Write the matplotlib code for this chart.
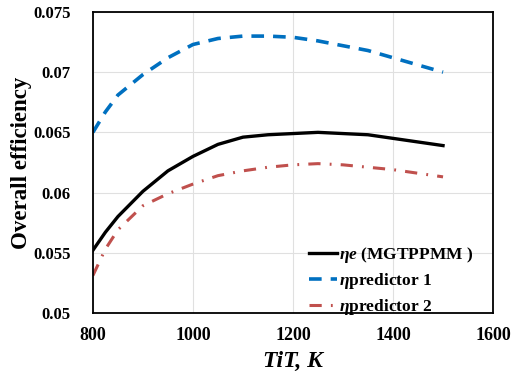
import matplotlib
matplotlib.use('Agg')
import matplotlib.pyplot as plt

plt.rcParams['font.family'] = 'Liberation Serif'
plt.rcParams['font.weight'] = 'bold'
plt.rcParams['mathtext.fontset'] = 'custom'
plt.rcParams['mathtext.rm'] = 'Liberation Serif:bold'
plt.rcParams['mathtext.it'] = 'Liberation Serif:italic:bold'
plt.rcParams['mathtext.bf'] = 'Liberation Serif:bold'

tit = [800, 825, 850, 900, 950, 1000, 1050, 1100, 1150, 1200, 1250, 1300, 1350, 1400, 1450, 1500]
eta_e = [0.0552, 0.0567, 0.0580, 0.0601, 0.0618, 0.0630, 0.0640, 0.0646, 0.0648, 0.0649, 0.0650,
         0.0649, 0.0648, 0.0645, 0.0642, 0.0639]
eta_pred1 = [0.0650, 0.0667, 0.0681, 0.0698, 0.0712, 0.0723, 0.0728, 0.0730, 0.0730, 0.0729, 0.0726,
             0.0722, 0.0718, 0.0712, 0.0706, 0.0700]
eta_pred2 = [0.0531, 0.0553, 0.0569, 0.0589, 0.0599, 0.0607, 0.0614, 0.0618, 0.0621, 0.0623, 0.0624,
             0.0623, 0.0621, 0.0619, 0.0616, 0.0613]

fig = plt.figure(figsize=(5.19, 3.76), dpi=100)
ax = fig.add_axes([0.179, 0.168, 0.771, 0.800])

ax.plot(tit, eta_e, color='black', lw=2.4, label=r'$\eta e$ (MGTPPMM )')
ax.plot(tit, eta_pred1, color='#0070C0', lw=2.6, ls=(0, (3.5, 2.5)), label=r'$\eta$predictor 1')
ax.plot(tit, eta_pred2, color='#C0504D', lw=2.2, ls=(0, (4, 3, 0.6, 3)), label=r'$\eta$predictor 2')

ax.set_xlim(800, 1600)
ax.set_ylim(0.05, 0.075)
ax.set_xticks([800, 1000, 1200, 1400, 1600])
ax.set_yticks([0.05, 0.055, 0.06, 0.065, 0.07, 0.075])
ax.set_yticklabels(['0.05', '0.055', '0.06', '0.065', '0.07', '0.075'])
ax.grid(True, color='#e0e0e0', lw=0.8)
ax.tick_params(axis='y', length=0, labelsize=12, pad=16)
ax.tick_params(axis='x', length=0, labelsize=13, pad=10)
for lab in ax.get_xticklabels() + ax.get_yticklabels():
    lab.set_fontweight('bold')
for sp in ax.spines.values():
    sp.set_linewidth(1.3)

ax.set_xlabel('TiT, K', fontsize=17, fontweight='bold', style='italic', labelpad=5)
ax.set_ylabel('Overall efficiency', fontsize=16.5, fontweight='bold', labelpad=1)

ax.legend(loc='lower right', frameon=False, fontsize=12.5, handlelength=1.6,
          handletextpad=0.1, labelspacing=0.35, borderaxespad=0.0,
          bbox_to_anchor=(0.967, -0.037))

fig.savefig('out.png', dpi=100)
